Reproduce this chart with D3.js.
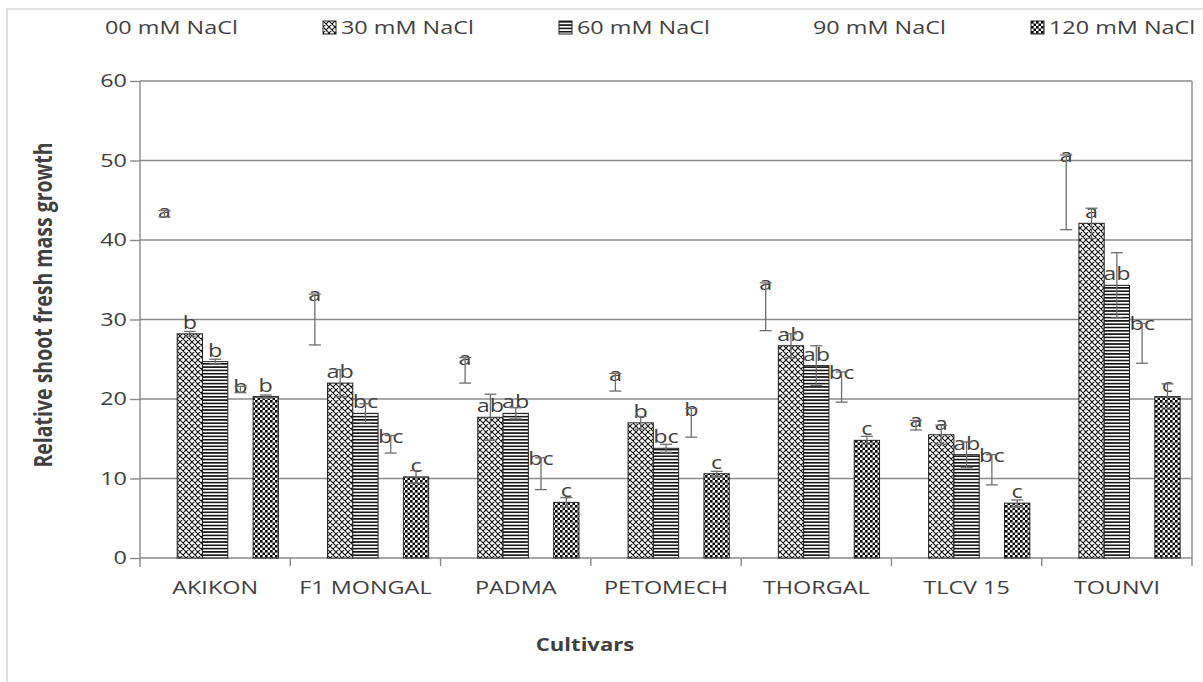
<!DOCTYPE html>
<html>
<head>
<meta charset="utf-8">
<script src="https://cdn.jsdelivr.net/npm/d3@7"></script>
<style>
  body { margin: 0; background: #fff; }
  text { font-family: 'Open Sans', sans-serif; fill: #404040; }
</style>
</head>
<body>
<svg id="canvas" width="1203" height="682"></svg>
<script>
const cultivars = ['AKIKON', 'F1 MONGAL', 'PADMA', 'PETOMECH', 'THORGAL', 'TLCV 15', 'TOUNVI'];
const seriesNames = ['00 mM NaCl', '30 mM NaCl', '60 mM NaCl', '90 mM NaCl', '120 mM NaCl'];

const mean00 = [43.3, 30.0, 23.6, 22.1, 31.6, 16.7, 46.0];
const err00 = [0.4, 3.2, 1.6, 1.1, 3.0, 0.6, 4.7];
const let00 = ['a', 'a', 'a', 'a', 'a', 'a', 'a'];

const mean30 = [28.2, 22.0, 17.7, 17.0, 26.7, 15.5, 42.1];
const err30 = [0.3, 1.7, 2.9, 0.8, 1.5, 1.2, 1.9];
const let30 = ['b', 'ab', 'ab', 'b', 'ab', 'a', 'a'];

const mean60 = [24.7, 18.2, 18.2, 13.8, 24.2, 13.0, 34.3];
const err60 = [0.3, 1.2, 0.7, 0.5, 2.5, 1.6, 4.1];
const let60 = ['b', 'bc', 'ab', 'bc', 'ab', 'ab', 'ab'];

const mean90 = [21.2, 14.3, 10.6, 17.0, 21.5, 11.1, 27.0];
const err90 = [0.4, 1.1, 2.0, 1.8, 1.9, 1.9, 2.5];
const let90 = ['b', 'bc', 'bc', 'b', 'bc', 'bc', 'bc'];

const mean120 = [20.3, 10.2, 7.0, 10.6, 14.8, 6.9, 20.3];
const err120 = [0.2, 0.8, 0.6, 0.3, 0.5, 0.4, 1.6];
const let120 = ['b', 'c', 'c', 'c', 'c', 'c', 'c'];

const yTicks = [0, 10, 20, 30, 40, 50, 60];

const allMeans = [mean00, mean30, mean60, mean90, mean120];
const allErrs = [err00, err30, err60, err90, err120];
const allLetters = [let00, let30, let60, let90, let120];
// fill pattern id for each series (null = bar not drawn)
const fills = [null, 'p30', 'p60', null, 'p120'];

const svg = d3.select('#canvas');
const stretch = 'scale(1.3,1)';

// patterns
const defs = svg.append('defs');
const p30 = defs.append('pattern').attr('id', 'p30').attr('patternUnits', 'userSpaceOnUse')
  .attr('width', 6).attr('height', 6);
p30.append('rect').attr('width', 6).attr('height', 6).attr('fill', '#fff');
p30.append('path').attr('d', 'M0,0L6,6M6,0L0,6M-1,5L1,7M5,-1L7,1M-1,1L1,-1M5,7L7,5')
  .attr('stroke', '#111').attr('stroke-width', 1.1);

const p60 = defs.append('pattern').attr('id', 'p60').attr('patternUnits', 'userSpaceOnUse')
  .attr('width', 6).attr('height', 3.3);
p60.append('rect').attr('width', 6).attr('height', 3.3).attr('fill', '#fff');
p60.append('rect').attr('width', 6).attr('height', 1.6).attr('fill', '#111');

const p120 = defs.append('pattern').attr('id', 'p120').attr('patternUnits', 'userSpaceOnUse')
  .attr('width', 5).attr('height', 5);
p120.append('rect').attr('width', 5).attr('height', 5).attr('fill', '#fff');
p120.append('rect').attr('width', 2.6).attr('height', 2.6).attr('fill', '#000');
p120.append('rect').attr('x', 2.5).attr('y', 2.5).attr('width', 2.6).attr('height', 2.6).attr('fill', '#000');

// chart frame
svg.append('path').attr('d', 'M7,682V9H1203').attr('fill', 'none')
  .attr('stroke', '#c8c8c8').attr('stroke-width', 1.2);

const x = d3.scaleBand().domain(cultivars).range([140, 1192]).padding(0);
const xs = d3.scaleBand().domain(seriesNames).range([0, x.bandwidth()])
  .paddingInner(0).paddingOuter(0.47);
const y = d3.scaleLinear().domain([0, 60]).range([558, 81]);

// gridlines
svg.append('g').selectAll('line').data(yTicks.slice(1)).enter().append('line')
  .attr('x1', 140).attr('x2', 1192)
  .attr('y1', (d) => y(d)).attr('y2', (d) => y(d))
  .attr('stroke', '#8a8a8a').attr('stroke-width', 1.4);

// right plot edge
svg.append('line').attr('x1', 1192).attr('x2', 1192).attr('y1', y(60)).attr('y2', y(0) + 8)
  .attr('stroke', '#8a8a8a').attr('stroke-width', 1.4);

// y axis
const yAxis = svg.append('g').attr('transform', 'translate(140,0)')
  .call(d3.axisLeft(y).tickValues(yTicks).tickSize(10).tickFormat(d3.format('d')));
yAxis.select('.domain').remove();
yAxis.selectAll('.tick line').attr('stroke', '#8a8a8a').attr('stroke-width', 1.4);
yAxis.selectAll('.tick text')
  .attr('x', 0)
  .attr('transform', 'translate(-13,0) ' + stretch)
  .style('font-size', '18px').attr('fill', '#404040');
svg.append('line').attr('x1', 140).attr('x2', 140).attr('y1', y(60)).attr('y2', y(0) + 9)
  .attr('stroke', '#8a8a8a').attr('stroke-width', 1.4);

// x axis
svg.append('line').attr('x1', 140).attr('x2', 1192).attr('y1', y(0)).attr('y2', y(0))
  .attr('stroke', '#8a8a8a').attr('stroke-width', 1.4);
svg.append('g').selectAll('line').data(cultivars.slice(1)).enter().append('line')
  .attr('x1', (d) => x(d)).attr('x2', (d) => x(d))
  .attr('y1', y(0)).attr('y2', y(0) + 8)
  .attr('stroke', '#8a8a8a').attr('stroke-width', 1.4);
const xAxis = svg.append('g').attr('transform', 'translate(0,' + y(0) + ')')
  .call(d3.axisBottom(x).tickSize(0).tickPadding(23));
xAxis.select('.domain').remove();
xAxis.selectAll('.tick text')
  .attr('transform', stretch)
  .style('font-size', '18px').attr('fill', '#404040');

// bars, labels, error bars
const rows = [];
seriesNames.forEach((s, si) => {
  cultivars.forEach((c, ci) => {
    rows.push({ s: s, si: si, c: c, v: allMeans[si][ci], e: allErrs[si][ci], l: allLetters[si][ci] });
  });
});

svg.append('g').selectAll('rect').data(rows.filter((d) => fills[d.si])).enter().append('rect')
  .attr('x', (d) => x(d.c) + xs(d.s))
  .attr('y', (d) => y(d.v))
  .attr('width', xs.bandwidth())
  .attr('height', (d) => y(0) - y(d.v))
  .attr('fill', (d) => 'url(#' + fills[d.si] + ')')
  .attr('stroke', '#222').attr('stroke-width', 1);

const cx = (d) => x(d.c) + xs(d.s) + xs.bandwidth() / 2;

svg.append('g').selectAll('text').data(rows).enter().append('text')
  .attr('text-anchor', 'middle')
  .attr('transform', (d) => {
    const by = fills[d.si] ? y(d.v) - 5 : y(d.v + d.e) + 7;
    return 'translate(' + cx(d) + ',' + by + ') ' + stretch;
  })
  .style('font-size', '18px')
  .text((d) => d.l);

const eb = svg.append('g').attr('stroke', '#6e6e6e').attr('stroke-width', 1.3);
rows.forEach((d) => {
  const px = cx(d);
  eb.append('line').attr('x1', px).attr('x2', px).attr('y1', y(d.v + d.e)).attr('y2', y(d.v - d.e));
  eb.append('line').attr('x1', px - 6).attr('x2', px + 6).attr('y1', y(d.v + d.e)).attr('y2', y(d.v + d.e));
  eb.append('line').attr('x1', px - 6).attr('x2', px + 6).attr('y1', y(d.v - d.e)).attr('y2', y(d.v - d.e));
});

// legend
const legend = svg.append('g').selectAll('g').data(seriesNames).enter().append('g')
  .attr('transform', (d, i) => 'translate(' + (87 + i * 236) + ',21)');
legend.filter((d, i) => fills[i]).append('rect')
  .attr('width', 13).attr('height', 13)
  .attr('fill', (d, i) => 'url(#' + fills[seriesNames.indexOf(d)] + ')')
  .attr('stroke', '#222').attr('stroke-width', 1);
legend.append('text')
  .attr('transform', 'translate(18,13) ' + stretch)
  .style('font-size', '18px')
  .text((d) => d);

// axis titles
svg.append('text')
  .attr('text-anchor', 'middle')
  .attr('transform', 'translate(585,651) ' + stretch)
  .style('font-size', '17px').style('font-weight', 'bold')
  .text('Cultivars');
svg.append('text')
  .attr('text-anchor', 'middle')
  .attr('transform', 'translate(52,305) rotate(-90) scale(1,1.25)')
  .style('font-size', '19.5px').style('font-weight', 'bold')
  .text('Relative shoot fresh mass growth');
</script>
</body>
</html>
